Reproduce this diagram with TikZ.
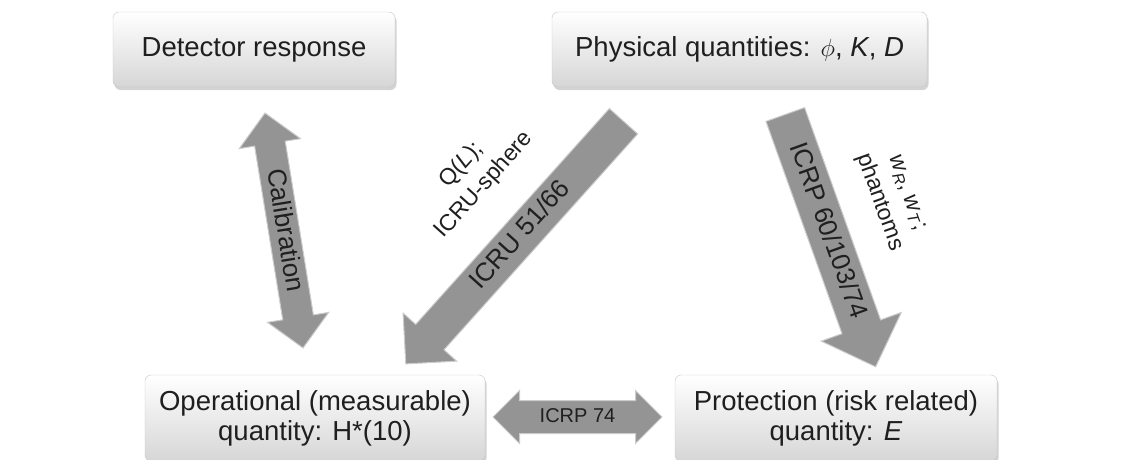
\documentclass[tikz,border=0pt]{standalone}
\usepackage{fontspec}
\setmainfont{Liberation Sans}
\usetikzlibrary{shapes.arrows,shadows}

\begin{document}
\begin{tikzpicture}[
x=1pt, y=-1pt,
boxnode/.style={rectangle, rounded corners=6pt, draw=black!22, top color=white, bottom color=black!16, drop shadow={opacity=0.35, shadow xshift=1.5pt, shadow yshift=-3pt}, text=black!88, font=\fontsize{27.5}{30}\selectfont, align=center, inner sep=0pt},
blockarrow/.style={single arrow, single arrow tip angle=90, draw=black!20, line width=1pt, fill=black!42, text=black!88, font=\fontsize{26}{28}\selectfont, text height=18pt, text depth=5pt, inner xsep=0pt},
twoarrow/.style={double arrow, double arrow tip angle=90, draw=black!20, line width=1pt, fill=black!42, text=black!88, font=\fontsize{26}{28}\selectfont, text height=18pt, text depth=5pt, inner xsep=0pt},
sidelabel/.style={align=center, text=black!88, font=\fontsize{23}{30}\selectfont, inner sep=0pt},
]
\useasboundingbox (0,0) rectangle (1145,460);

%Boxes
\node[boxnode, minimum width=282, minimum height=75] (detector)    at (254,49.5)  {Detector response};
\node[boxnode, minimum width=375, minimum height=75] (physical)    at (739.5,49.5) {Physical quantities: $\phi$, \textit{K}, \textit{D}};
\node[boxnode, minimum width=340, minimum height=86] (operational) at (315,418)   {Operational (measurable)\\quantity: H*(10)};
\node[boxnode, minimum width=322, minimum height=86] (protection)  at (836,418)   {Protection (risk related)\\quantity: \textit{E}};

%Arrows
\node[twoarrow, rotate=-80.8, minimum height=238, inner ysep=3.5pt, double arrow head extend=15.5pt] (calib) at (284,230.5) {Calibration};
\node[blockarrow, rotate=48.1, shape border rotate=180, minimum height=326, inner ysep=7pt, single arrow head extend=17pt] (icru) at (521,235.5) {ICRU 51/66};
\node[blockarrow, rotate=-70.3, minimum height=268, inner ysep=8.5pt, single arrow head extend=22pt] (icrp) at (827,231) {ICRP 60/103/74};
\node[twoarrow, minimum height=169, font=\fontsize{20}{22}\selectfont, text height=14pt, text depth=4pt, inner ysep=7pt, double arrow head extend=10pt] (icrp74) at (577.5,417) {ICRP 74};

%Labels
\node[sidelabel, rotate=48.1]  (qlabel) at (473,175) {Q(\textit{L});\\ICRU-sphere};
\node[sidelabel, rotate=-70.3] (wlabel) at (892,198) {\textit{w}\textsubscript{\textit{R}}, \textit{w}\textsubscript{\textit{T}};\\phantoms};

\end{tikzpicture}
\end{document}
